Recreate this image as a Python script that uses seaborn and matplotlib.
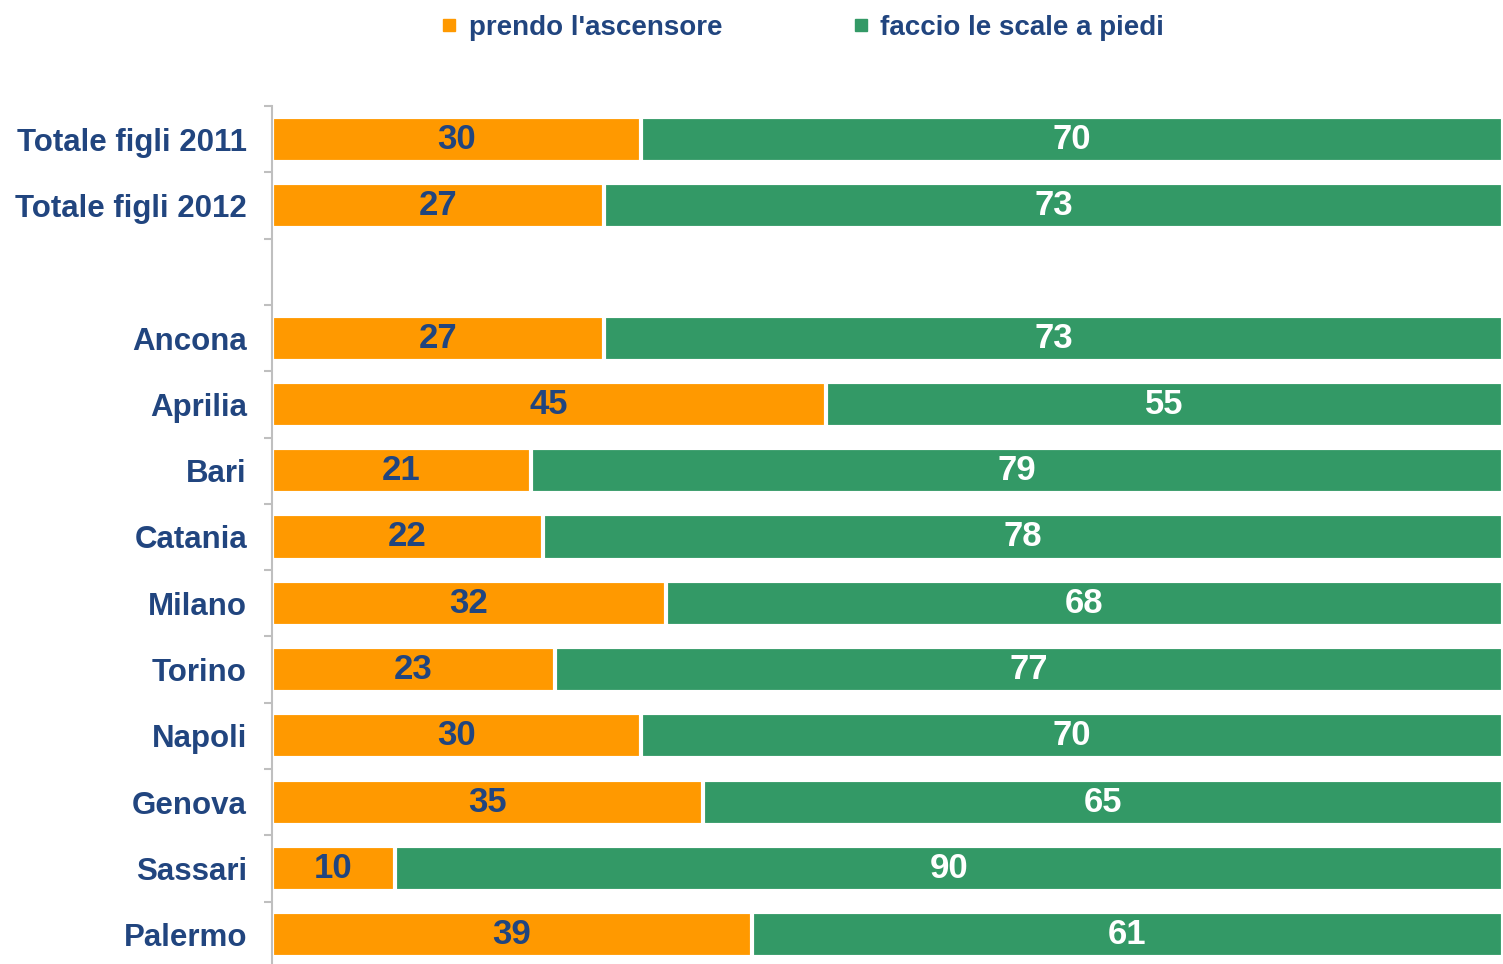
import numpy as np
import pandas as pd
import matplotlib
matplotlib.use("Agg")
import matplotlib.pyplot as plt
from matplotlib.lines import Line2D
import seaborn as sns

# ---------------------------------------------
# DATA
# ---------------------------------------------
categories = ["Totale figli 2011", "Totale figli 2012",
              "Ancona", "Aprilia", "Bari", "Catania", "Milano",
              "Torino", "Napoli", "Genova", "Sassari", "Palermo"]
ascensore = [30, 27, 27, 45, 21, 22, 32, 23, 30, 35, 10, 39]
scale = [70, 73, 73, 55, 79, 78, 68, 77, 70, 65, 90, 61]
series_names = ["prendo l'ascensore", "faccio le scale a piedi"]

# blank slot between the totals and the cities
order = categories[:2] + [" "] + categories[2:]

ORANGE = "#FF9900"
GREEN = "#339966"
BLUE = "#21457F"

df = pd.DataFrame({"cat": categories, "asc": ascensore, "scale": scale})
df["tot"] = df["asc"] + df["scale"]

# ---------------------------------------------
# PLOT
# ---------------------------------------------
sns.set_theme(style="white")
plt.rcParams["font.family"] = ["Liberation Sans", "DejaVu Sans"]
plt.rcParams["font.weight"] = "bold"

fig = plt.figure(figsize=(15.03, 9.64), dpi=100)
ax = fig.add_axes([272 / 1503, -4 / 964, 1231 / 1503, 862 / 964])

sns.barplot(data=df, x="tot", y="cat", order=order, color=GREEN,
            orient="h", width=0.68, saturation=1, edgecolor="white",
            linewidth=3, ax=ax)
sns.barplot(data=df, x="asc", y="cat", order=order, color=ORANGE,
            orient="h", width=0.68, saturation=1, edgecolor="white",
            linewidth=3, ax=ax)

# value labels
pos = {c: i for i, c in enumerate(order)}
for c, a, s in zip(categories, ascensore, scale):
    y = pos[c]
    ax.text(a / 2, y, f"{a}", ha="center", va="center", color=BLUE,
            fontsize=25, fontweight="bold")
    ax.text(a + s / 2, y, f"{s}", ha="center", va="center", color="white",
            fontsize=25, fontweight="bold")

ax.set_xlim(0, 100)
ax.set_ylim(len(order) - 0.5, -0.5)
ax.set_xlabel("")
ax.set_ylabel("")
ax.set_xticks([])

for sp in ["top", "right", "bottom"]:
    ax.spines[sp].set_visible(False)
ax.spines["left"].set_color("#BFBFBF")
ax.spines["left"].set_linewidth(1.5)

ax.set_yticks(range(len(order)))
ax.set_yticklabels(order, fontsize=22.5, fontweight="bold", color=BLUE)
ax.set_yticks(np.arange(-0.5, len(order), 1.0), minor=True)
ax.tick_params(axis="y", which="major", left=False, length=0, pad=18)
ax.tick_params(axis="y", which="minor", left=True, length=6, width=1.5,
               color="#BFBFBF")

handles = [Line2D([], [], marker="s", linestyle="", markersize=8,
                  markerfacecolor=ORANGE, markeredgecolor=ORANGE),
           Line2D([], [], marker="s", linestyle="", markersize=8,
                  markerfacecolor=GREEN, markeredgecolor=GREEN)]
leg = fig.legend(handles, series_names, loc="center", ncol=2,
                 bbox_to_anchor=(0.533, 0.971), frameon=False,
                 fontsize=20, columnspacing=4.6, handletextpad=0.3,
                 handlelength=0.8)
for t in leg.get_texts():
    t.set_color(BLUE)
    t.set_fontweight("bold")

fig.savefig("out.png", dpi=100)
